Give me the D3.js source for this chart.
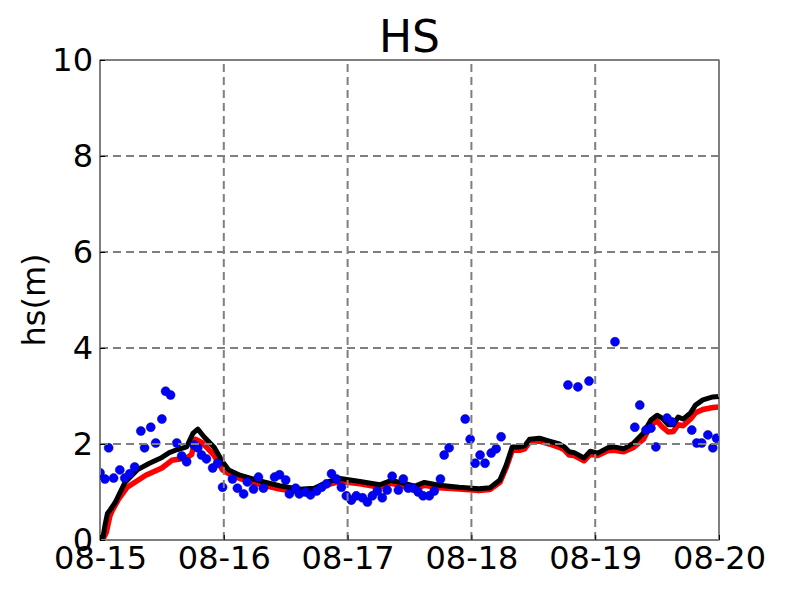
<!DOCTYPE html>
<html>
<head>
<meta charset="utf-8">
<script src="https://cdn.jsdelivr.net/npm/d3@7"></script>
<style>
  body { margin: 0; background: #fff; }
  text { font-family: "DejaVu Sans", sans-serif; }
</style>
</head>
<body>
<div id="chart"></div>
<script>
// days since 08-15 00:00 and significant wave height (m)
const dayTicks = [0, 1, 2, 3, 4, 5];
const dayLabels = ["08-15", "08-16", "08-17", "08-18", "08-19", "08-20"];
const hsTicks = [0, 2, 4, 6, 8, 10];

const obsDay = [0.00, 0.04, 0.07, 0.11, 0.16, 0.20, 0.24, 0.28, 0.33, 0.36, 0.41, 0.45, 0.50, 0.53, 0.57, 0.62, 0.66, 0.70, 0.76, 0.79,
  0.82, 0.86, 0.91, 0.95, 0.99, 1.07, 1.11, 1.16, 1.19, 1.24, 1.28, 1.32, 1.41, 1.45, 1.50, 1.53, 1.58, 1.61, 1.66, 1.70,
  1.75, 1.79, 1.83, 1.87, 1.91, 1.95, 1.99, 2.03, 2.07, 2.12, 2.16, 2.20, 2.24, 2.28, 2.32, 2.36, 2.41, 2.45, 2.49, 2.53,
  2.57, 2.61, 2.66, 2.70, 2.75, 2.78, 2.82, 2.95, 2.99, 3.03, 3.07, 3.11, 3.16, 3.20, 3.24, 3.78, 3.86, 3.95, 4.16, 4.32,
  4.36, 4.41, 4.45, 4.49, 4.58, 4.62, 4.78, 4.82, 4.86, 4.91, 4.95, 4.98];
const obsHs = [1.40, 1.27, 1.92, 1.29, 1.46, 1.29, 1.38, 1.52, 2.27, 1.92, 2.35, 2.02, 2.52, 3.10, 3.02, 2.02, 1.75, 1.63, 1.98, 1.92,
  1.77, 1.69, 1.50, 1.60, 1.10, 1.27, 1.08, 0.96, 1.21, 1.06, 1.31, 1.08, 1.31, 1.36, 1.25, 0.96, 1.08, 0.96, 1.00, 0.94,
  1.02, 1.10, 1.17, 1.38, 1.27, 1.10, 0.92, 0.83, 0.92, 0.88, 0.79, 0.92, 1.02, 0.88, 1.04, 1.33, 1.04, 1.27, 1.08, 1.08,
  1.00, 0.92, 0.92, 1.02, 1.27, 1.77, 1.92, 2.52, 2.10, 1.60, 1.77, 1.60, 1.81, 1.90, 2.15, 3.23, 3.19, 3.31, 4.13, 2.35,
  2.81, 2.29, 2.33, 1.94, 2.54, 2.46, 2.29, 2.02, 2.02, 2.19, 1.92, 2.12];

const blackDay = [0.02, 0.04, 0.06, 0.08, 0.12, 0.20, 0.30, 0.40, 0.50, 0.56, 0.62, 0.70, 0.75, 0.79, 0.84, 0.92, 0.99, 1.04, 1.13, 1.29,
  1.45, 1.61, 1.73, 1.85, 1.94, 2.10, 2.26, 2.35, 2.46, 2.54, 2.62, 2.74, 2.90, 3.06, 3.15, 3.23, 3.28, 3.33, 3.39, 3.43,
  3.47, 3.55, 3.63, 3.71, 3.75, 3.79, 3.83, 3.91, 3.96, 4.02, 4.10, 4.15, 4.23, 4.31, 4.39, 4.45, 4.50, 4.54, 4.59, 4.63,
  4.67, 4.71, 4.77, 4.81, 4.87, 4.95, 5.00];
const blackHs = [0.00, 0.30, 0.55, 0.62, 0.77, 1.19, 1.46, 1.60, 1.72, 1.82, 1.88, 1.94, 2.22, 2.31, 2.15, 1.94, 1.63, 1.46, 1.35, 1.23,
  1.13, 1.06, 1.08, 1.22, 1.28, 1.22, 1.15, 1.24, 1.18, 1.12, 1.20, 1.14, 1.10, 1.07, 1.09, 1.25, 1.55, 1.94, 1.94, 1.96,
  2.10, 2.12, 2.06, 2.00, 1.94, 1.84, 1.82, 1.71, 1.85, 1.81, 1.92, 1.94, 1.90, 2.02, 2.23, 2.50, 2.60, 2.54, 2.40, 2.40,
  2.56, 2.52, 2.65, 2.81, 2.92, 2.98, 2.99];

const redDay = [0.02, 0.05, 0.08, 0.10, 0.15, 0.22, 0.37, 0.50, 0.58, 0.70, 0.74, 0.77, 0.83, 0.92, 0.99, 1.04, 1.13, 1.29, 1.45, 1.61,
  1.73, 1.85, 1.94, 2.10, 2.26, 2.35, 2.46, 2.54, 2.62, 2.74, 2.90, 3.06, 3.15, 3.23, 3.28, 3.33, 3.39, 3.43, 3.47, 3.55,
  3.63, 3.71, 3.75, 3.79, 3.83, 3.91, 3.96, 4.02, 4.10, 4.15, 4.23, 4.31, 4.39, 4.45, 4.50, 4.54, 4.59, 4.63, 4.67, 4.71,
  4.77, 4.81, 4.87, 4.95, 5.00];
const redHs = [0.00, 0.15, 0.50, 0.62, 0.85, 1.10, 1.35, 1.50, 1.66, 1.71, 1.78, 2.10, 2.02, 1.77, 1.46, 1.38, 1.28, 1.16, 1.06, 1.00,
  1.02, 1.16, 1.22, 1.17, 1.10, 1.18, 1.12, 1.07, 1.14, 1.09, 1.06, 1.03, 1.05, 1.20, 1.50, 1.87, 1.87, 1.90, 2.04, 2.06,
  2.00, 1.93, 1.88, 1.77, 1.76, 1.65, 1.79, 1.76, 1.86, 1.87, 1.84, 1.93, 2.10, 2.40, 2.48, 2.36, 2.25, 2.26, 2.40, 2.38,
  2.52, 2.65, 2.72, 2.76, 2.77];

const width = 800, height = 600;
const margin = { left: 100, right: 81, top: 60, bottom: 60 };

const svg = d3.select("#chart").append("svg")
  .attr("width", width)
  .attr("height", height);

const x = d3.scaleLinear().domain([0, 5]).range([margin.left, width - margin.right]);
const y = d3.scaleLinear().domain([0, 10]).range([height - margin.bottom, margin.top]);

svg.append("clipPath").attr("id", "plotclip")
  .append("rect")
  .attr("x", margin.left).attr("y", margin.top)
  .attr("width", x(5) - x(0)).attr("height", y(0) - y(10));

// frame
svg.append("rect")
  .attr("x", margin.left).attr("y", margin.top)
  .attr("width", x(5) - x(0)).attr("height", y(0) - y(10))
  .attr("fill", "none").attr("stroke", "black").attr("stroke-width", 1);

const plot = svg.append("g").attr("clip-path", "url(#plotclip)");

const line = d3.line().x(d => x(d[0])).y(d => y(d[1]));

plot.append("path")
  .datum(redDay.map((d, i) => [d, redHs[i]]))
  .attr("d", line)
  .attr("fill", "none").attr("stroke", "red").attr("stroke-width", 5.5)
  .attr("stroke-linejoin", "round");

plot.append("path")
  .datum(blackDay.map((d, i) => [d, blackHs[i]]))
  .attr("d", line)
  .attr("fill", "none").attr("stroke", "black").attr("stroke-width", 5)
  .attr("stroke-linejoin", "round");

plot.selectAll(".obs")
  .data(obsDay.map((d, i) => [d, obsHs[i]]))
  .enter().append("circle")
  .attr("class", "obs")
  .attr("cx", d => x(d[0]))
  .attr("cy", d => y(d[1]))
  .attr("r", 4.5)
  .attr("fill", "#0000ff")
  .attr("stroke", "#000080")
  .attr("stroke-width", 0.5);

// dashed grid (drawn over the frame like the original)
const grid = svg.append("g");
grid.selectAll(".vgrid").data(dayTicks).enter().append("line")
  .attr("x1", d => x(d)).attr("x2", d => x(d))
  .attr("y1", y(0)).attr("y2", y(10))
  .attr("stroke", "#7f7f7f").attr("stroke-width", 2).attr("stroke-dasharray", "8,5");
grid.selectAll(".hgrid").data(hsTicks).enter().append("line")
  .attr("y1", d => y(d)).attr("y2", d => y(d))
  .attr("x1", x(0)).attr("x2", x(5))
  .attr("stroke", "#7f7f7f").attr("stroke-width", 2).attr("stroke-dasharray", "8,5");

// axes with small inward ticks
const xAxis = d3.axisBottom(x).tickValues(dayTicks).tickFormat((d, i) => dayLabels[i]).tickSize(-5).tickPadding(6);
const yAxis = d3.axisLeft(y).tickValues(hsTicks).tickSize(-5).tickPadding(7);

const gx = svg.append("g").attr("transform", `translate(0,${y(0)})`).call(xAxis);
const gy = svg.append("g").attr("transform", `translate(${x(0)},0)`).call(yAxis);
[gx, gy].forEach(g => {
  g.select(".domain").remove();
  g.selectAll("line").attr("stroke", "black");
  g.selectAll("text").attr("font-size", 32).attr("fill", "black").attr("font-family", "DejaVu Sans");
});

svg.append("text")
  .attr("x", (x(0) + x(5)) / 2).attr("y", 52)
  .attr("text-anchor", "middle")
  .attr("font-size", 44)
  .text("HS");

svg.append("text")
  .attr("transform", `translate(45,${(y(0) + y(10)) / 2}) rotate(-90)`)
  .attr("text-anchor", "middle")
  .attr("font-size", 32)
  .text("hs(m)");
</script>
</body>
</html>
